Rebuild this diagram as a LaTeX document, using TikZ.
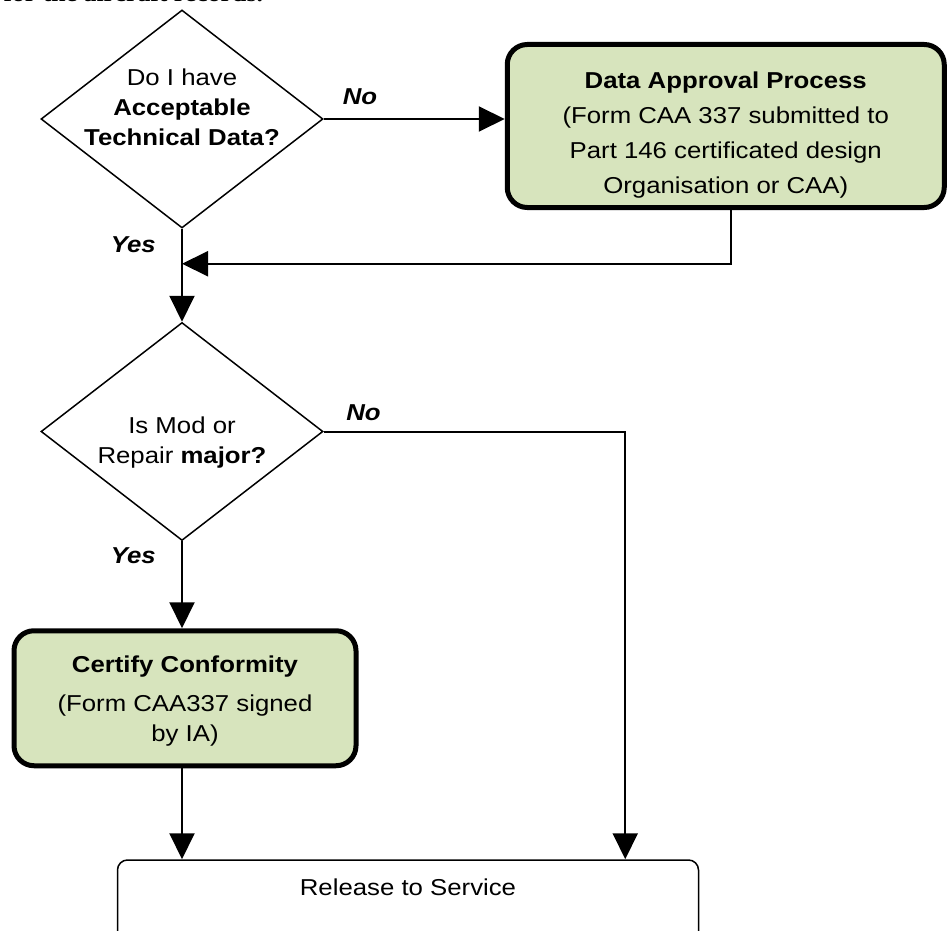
\documentclass[tikz,border=0pt]{standalone}
\usepackage{fontspec}
\setmainfont{Liberation Sans}[FakeStretch=1.12]
\newfontfamily\notefont{Liberation Serif}[FakeStretch=1.12]
\usetikzlibrary{positioning,shapes.geometric,arrows.meta}

\definecolor{procgreen}{HTML}{D7E4BD}

\tikzset{
    decision/.style={diamond, draw, line width=1.5pt, minimum width=282pt, minimum height=218pt, inner sep=0pt},
    process/.style={rectangle, draw, line width=5pt, rounded corners=20pt, fill=procgreen, align=center},
    terminal/.style={rectangle, draw, line width=1.5pt, rounded corners=10pt, minimum width=581pt, minimum height=150pt},
    flow/.style={line width=2pt, -{Triangle[length=26pt,width=25pt]}},
    answer/.style={font=\fontsize{23pt}{30pt}\selectfont\bfseries\itshape},
}

\begin{document}
\begin{tikzpicture}[x=1pt, y=-1pt, font=\fontsize{23pt}{30pt}\selectfont]
            \useasboundingbox (0,0) rectangle (948,931);
            \node[anchor=base west, font=\notefont\bfseries\fontsize{23pt}{30pt}\selectfont] (note) at (0,2) {for the aircraft records.};

            \node[decision, label={[align=center, yshift=12pt]center:Do I have\\\textbf{Acceptable}\\\textbf{Technical Data?}}] (q1) at (182,119) {};
            \node[process, right=181pt of q1, yshift=-7pt, minimum width=437pt, minimum height=163pt,
                  font=\fontsize{23pt}{35pt}\selectfont] (approval)
                {\rule{0pt}{35pt}\textbf{Data Approval Process}\\(Form CAA 337 submitted to\\Part 146 certificated design\\Organisation or CAA)};
            \coordinate[below=35pt of q1] (join);
            \node[decision, below=93pt of q1, label={[align=center, yshift=-11pt]center:Is Mod or\\Repair \textbf{major?}}] (q2) {};
            \node[process, below=87pt of q2, xshift=3pt, minimum width=342pt, minimum height=135pt] (certify)
                {\rule{0pt}{22pt}\textbf{Certify Conformity}\\[9pt](Form CAA337 signed\\by IA)};
            \node[terminal, below=91pt of certify, xshift=223pt,
                  label={[anchor=north, yshift=-16pt]north:Release to Service}] (release) {};

            \draw[flow] (q1.east) -- node[answer, pos=0.2, above=10pt] (no1) {No} (q1.east -| approval.west);
            \draw[flow] ([xshift=5pt]approval.south) |- (join);
            \draw[flow] (q1.south) -- node[answer, pos=0.17, left=22pt] (yes1) {Yes} (q2.north);
            \draw[flow] (q2.east) -| node[answer, pos=0.066, above=6pt] (no2) {No} ([xshift=-74pt]release.north east);
            \draw[flow] (q2.south) -- node[answer, pos=0.17, left=22pt] (yes2) {Yes} (q2.south |- certify.north);
            \draw[flow] (q2.south |- certify.south) -- (q2.south |- release.north);
        \end{tikzpicture}
\end{document}
